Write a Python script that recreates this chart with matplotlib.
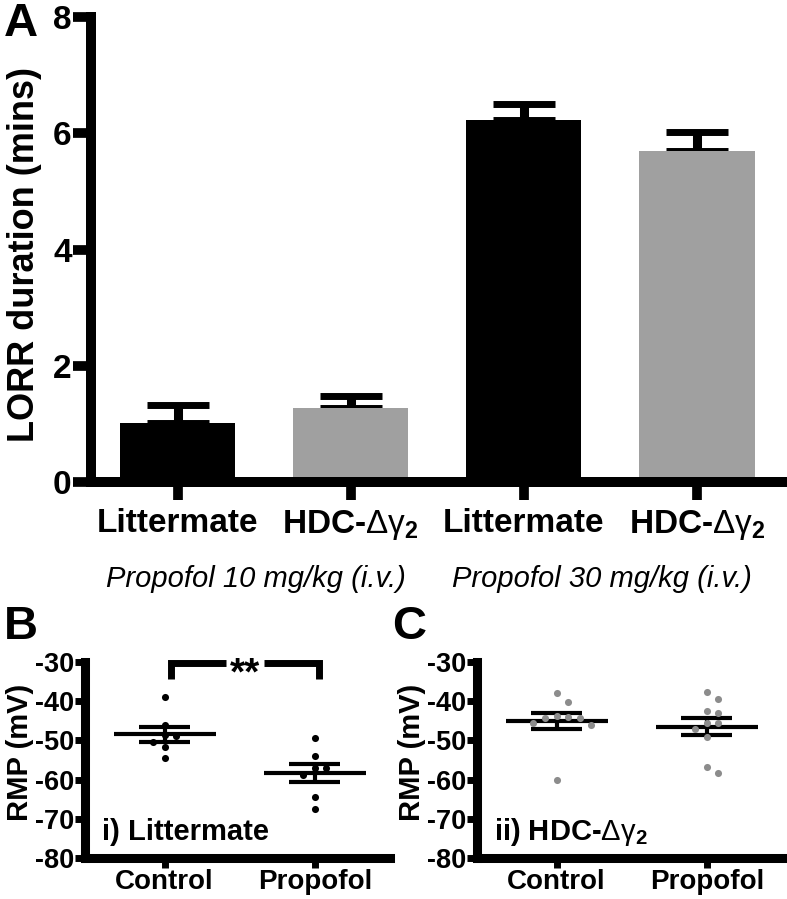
"""LORR duration bars (A) and RMP scatter panels (B, C)."""
import numpy as np
import matplotlib
matplotlib.use("Agg")
import matplotlib.pyplot as plt

plt.rcParams['font.family'] = ['Liberation Sans', 'DejaVu Sans']
plt.rcParams['mathtext.fontset'] = 'custom'
plt.rcParams['mathtext.rm'] = 'Liberation Sans'
plt.rcParams['mathtext.it'] = 'Liberation Sans:italic'
plt.rcParams['mathtext.bf'] = 'Liberation Sans:bold'
plt.rcParams['axes.unicode_minus'] = False

# Panel A: LORR duration (mins), mean + SEM
genotypes = ['Littermate', r'HDC-$\mathrm{\Delta\gamma}_{\mathbf{2}}$',
             'Littermate', r'HDC-$\mathrm{\Delta\gamma}_{\mathbf{2}}$']
doses = ['Propofol 10 mg/kg (i.v.)', 'Propofol 30 mg/kg (i.v.)']
lorr_mean = [1.02, 1.27, 6.22, 5.69]
lorr_sem = [0.30, 0.21, 0.29, 0.34]

# Panels B and C: RMP (mV) per cell
conditions = ['Control', 'Propofol']
rmp_littermate_control = [-39.0, -46.1, -48.6, -48.9, -50.3, -51.8, -54.6]
rmp_littermate_propofol = [-49.5, -53.9, -57.1, -57.1, -58.8, -64.4, -67.6]
rmp_hdc_control = [-38.0, -40.1, -43.7, -44.1, -44.4, -44.4, -45.5, -46.1, -60.1]
rmp_hdc_propofol = [-37.7, -39.5, -42.5, -42.9, -45.5, -45.6, -47.2, -49.2,
                    -56.7, -58.2]

W, H = 787, 899
BLACK = 'black'
GREY = '#a0a0a0'
DOT_GREY = '#8c8c8c'


def px(x, y):
    """Pixel position (from top-left) to figure fraction."""
    return x / W, 1 - y / H


def swarm_offsets(values, step=0.077, min_gap=2.4):
    """Spread points sideways so close values don't overlap."""
    values = np.asarray(values, dtype=float)
    offsets = np.zeros(len(values))
    placed = []
    for i in np.argsort(values)[::-1]:
        v = values[i]
        k = 0
        while True:
            cand = ((k + 1) // 2) * (1 if k % 2 else -1) * step
            clash = any(abs(cand - po) < step / 2 and abs(v - pv) < min_gap
                        for po, pv in placed)
            if not clash:
                break
            k += 1
        offsets[i] = cand
        placed.append((cand, v))
    return offsets


def plot_lorr(fig):
    ax = fig.add_axes([91 / W, 1 - 482 / H, 1 - 91 / W, 465 / H])
    x = np.arange(len(lorr_mean))
    colors = [BLACK, GREY, BLACK, GREY]
    ax.bar(x, lorr_mean, width=0.665, color=colors, zorder=2)
    ax.errorbar(x, lorr_mean, yerr=[np.zeros(len(x)), lorr_sem], fmt='none',
                ecolor=BLACK, elinewidth=6.5, capsize=22, capthick=5, zorder=1)

    ax.set_xlim(-0.5, 3.52)
    ax.set_ylim(0, 8)
    ax.set_yticks([0, 2, 4, 6, 8])
    ax.set_xticks(x)
    ax.set_xticklabels(genotypes, fontsize=24, fontweight='bold')
    for lab in ax.get_yticklabels():
        lab.set_fontsize(24)
        lab.set_fontweight('bold')

    for side in ['top', 'right']:
        ax.spines[side].set_visible(False)
    for side in ['left', 'bottom']:
        ax.spines[side].set_linewidth(7.2)
    ax.tick_params(axis='both', length=13, width=7, pad=1)
    ax.tick_params(axis='x', pad=6)

    # dose labels under each pair of bars
    trans = ax.get_xaxis_transform()
    for i, label in enumerate(doses):
        ax.text(2 * i + 0.45, -0.225, label, transform=trans, ha='center',
                va='baseline', fontsize=21, fontstyle='italic')

    fig.text(*px(25, 255), 'LORR duration (mins)', rotation=90, ha='center',
             va='center', fontsize=26, fontweight='bold')
    fig.text(*px(4, 2), 'A', ha='left', va='top', fontsize=34, fontweight='bold')


def plot_rmp(fig, left, control, propofol, dot_color, tag):
    ax = fig.add_axes([left / W, 1 - 858 / H, 305 / W, 196 / H])
    for i, vals in enumerate([control, propofol]):
        vals = np.asarray(vals)
        mean = vals.mean()
        sem = vals.std(ddof=1) / np.sqrt(len(vals))
        ax.hlines(mean, i - 0.34, i + 0.34, color=BLACK, lw=3, zorder=2)
        ax.hlines([mean - sem, mean + sem], i - 0.17, i + 0.17, color=BLACK,
                  lw=3, zorder=2)
        ax.vlines(i, mean - sem, mean + sem, color=BLACK, lw=3, zorder=2)
        ax.scatter(i + swarm_offsets(vals), vals, s=26, color=dot_color,
                   linewidths=0, zorder=3)

    ax.set_xlim(-0.53, 1.5)
    ax.set_ylim(-80, -30)
    ax.set_yticks(np.arange(-80, -29, 10))
    ax.set_xticks([0, 1])
    ax.set_xticklabels(conditions, fontsize=20, fontweight='bold')
    for lab in ax.get_yticklabels():
        lab.set_fontsize(19.5)
        lab.set_fontweight('bold')
    for side in ['top', 'right']:
        ax.spines[side].set_visible(False)
    for side in ['left', 'bottom']:
        ax.spines[side].set_linewidth(6.5)
    ax.tick_params(axis='both', length=7, width=5, pad=1)

    ax.text(0.055, 0.092, tag, transform=ax.transAxes, ha='left',
            va='baseline', fontsize=21, fontweight='bold')
    fig.text(*px(left - 65, 752), 'RMP (mV)', rotation=90, ha='center',
             va='center', fontsize=21, fontweight='bold')
    return ax


def main():
    fig = plt.figure(figsize=(W / 100, H / 100), dpi=100)

    plot_lorr(fig)

    ax_b = plot_rmp(fig, 85, rmp_littermate_control, rmp_littermate_propofol,
                    BLACK, 'i) Littermate')
    # significance bracket
    top, foot = -30.3, -34.3
    ax_b.plot([0.04, 0.04, 0.41], [foot, top, top], color=BLACK, lw=5,
              solid_capstyle='butt', solid_joinstyle='miter', clip_on=False)
    ax_b.plot([0.66, 1.03, 1.03], [top, top, foot], color=BLACK, lw=5,
              solid_capstyle='butt', solid_joinstyle='miter', clip_on=False)
    ax_b.text(0.535, -35.8, '**', ha='center', va='baseline', fontsize=28,
              fontweight='bold')
    fig.text(*px(4, 605), 'B', ha='left', va='top', fontsize=34,
             fontweight='bold')

    plot_rmp(fig, 477, rmp_hdc_control, rmp_hdc_propofol, DOT_GREY,
             r'ii) HDC-$\mathrm{\Delta\gamma}_{\mathbf{2}}$')
    fig.text(*px(392, 605), 'C', ha='left', va='top', fontsize=34,
             fontweight='bold')

    fig.savefig('out.png', dpi=100)
    plt.close(fig)


if __name__ == '__main__':
    main()
